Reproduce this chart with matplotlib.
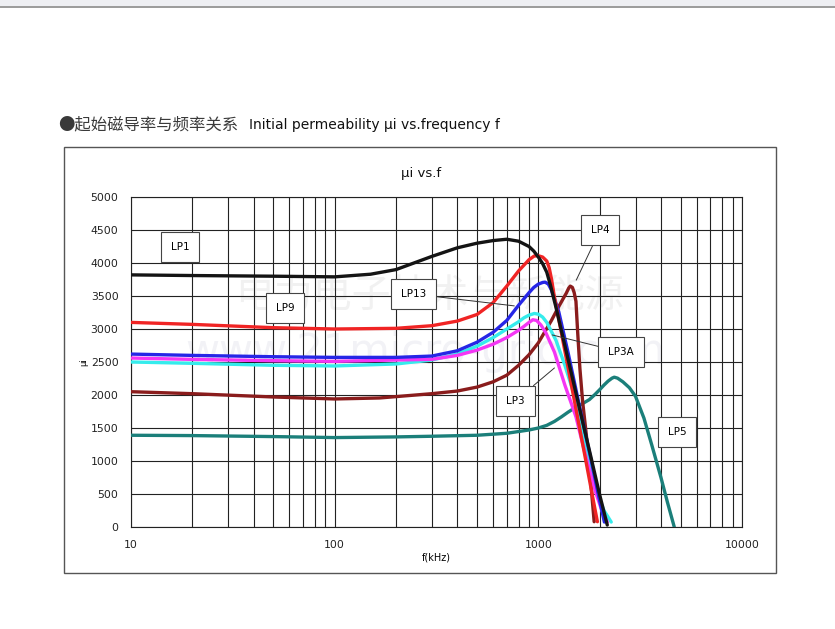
import numpy as np
import matplotlib
matplotlib.use('Agg')
from matplotlib import pyplot as plt
from matplotlib.patches import Rectangle

plt.rcParams['font.family'] = ['DejaVu Sans', 'Noto Sans CJK SC']

# frequency (kHz) / initial permeability readings
lp1_f = [10, 20, 50, 100, 150, 200, 250, 300, 400, 500, 600, 700, 800, 900, 950, 1000, 1050, 1100, 1150, 1220, 1400, 1600, 1800, 2000, 2180]
lp1_u = [3820, 3810, 3800, 3790, 3830, 3900, 4010, 4100, 4230, 4300, 4340, 4360, 4330, 4250, 4180, 4090, 3990, 3860, 3650, 3330, 2540, 1770, 1100, 490, 30]

lp9_f = [10, 20, 50, 100, 200, 300, 400, 500, 600, 700, 800, 900, 955, 1000, 1050, 1100, 1130, 1160, 1200, 1300, 1500, 1700, 1900, 1950]
lp9_u = [3100, 3070, 3020, 3000, 3010, 3050, 3120, 3220, 3400, 3650, 3880, 4050, 4106, 4110, 4090, 4030, 3930, 3760, 3480, 2930, 1930, 1050, 260, 80]

lp13_f = [10, 20, 50, 100, 200, 300, 400, 500, 600, 700, 800, 900, 950, 1000, 1050, 1080, 1120, 1160, 1200, 1260, 1400, 1600, 1800, 2000, 2110]
lp13_u = [2620, 2600, 2580, 2570, 2570, 2590, 2670, 2800, 2950, 3130, 3360, 3550, 3630, 3680, 3705, 3710, 3680, 3590, 3460, 3260, 2640, 1800, 1070, 400, 75]

lp3a_f = [10, 20, 50, 100, 200, 300, 400, 500, 600, 700, 800, 850, 900, 955, 1000, 1050, 1100, 1220, 1350, 1530, 1720, 1900, 2100, 2280]
lp3a_u = [2500, 2480, 2450, 2440, 2470, 2530, 2620, 2740, 2870, 3000, 3110, 3170, 3210, 3235, 3225, 3180, 3100, 2830, 2450, 1920, 1170, 600, 250, 75]

lp3_f = [10, 20, 50, 100, 200, 300, 400, 500, 600, 700, 800, 850, 900, 940, 980, 1030, 1090, 1200, 1350, 1530, 1700, 1900, 2050, 2180]
lp3_u = [2560, 2540, 2520, 2510, 2530, 2540, 2600, 2680, 2770, 2870, 2980, 3040, 3100, 3140, 3130, 3060, 2940, 2650, 2150, 1670, 1100, 550, 250, 75]

lp4_f = [10, 20, 50, 100, 166, 300, 400, 500, 600, 700, 800, 900, 1000, 1160, 1270, 1370, 1410, 1435, 1470, 1500, 1530, 1560, 1600, 1650, 1720, 1800, 1880]
lp4_u = [2050, 2020, 1970, 1940, 1955, 2020, 2060, 2120, 2200, 2300, 2450, 2610, 2790, 3130, 3360, 3540, 3620, 3650, 3630, 3550, 3420, 2950, 2400, 1900, 1400, 750, 80]

lp5_f = [10, 20, 50, 100, 200, 300, 500, 700, 900, 1000, 1100, 1200, 1300, 1400, 1500, 1650, 1780, 1900, 2000, 2100, 2200, 2300, 2360, 2450, 2600, 2800, 3000, 3300, 3600, 4000, 4300, 4650]
lp5_u = [1390, 1385, 1370, 1355, 1365, 1375, 1390, 1420, 1470, 1500, 1540, 1600, 1670, 1740, 1800, 1870, 1930, 2010, 2080, 2150, 2210, 2255, 2270, 2255, 2200, 2110, 1980, 1650, 1250, 750, 380, 0]

series = [
    ('LP5', lp5_f, lp5_u, '#1b7f7a'),
    ('LP4', lp4_f, lp4_u, '#8a1c1c'),
    ('LP3A', lp3a_f, lp3a_u, '#35ecec'),
    ('LP3', lp3_f, lp3_u, '#f436f4'),
    ('LP13', lp13_f, lp13_u, '#2626e6'),
    ('LP9', lp9_f, lp9_u, '#f02424'),
    ('LP1', lp1_f, lp1_u, '#141414'),
]

# label box position (f, u) and optional leader target (f, u)
labels = [
    ('LP1', (17.4, 4240), None),
    ('LP9', (57, 3320), None),
    ('LP13', (245, 3530), (762, 3350)),
    ('LP4', (2010, 4500), (1535, 3740)),
    ('LP3A', (2550, 2650), (1170, 2910)),
    ('LP3', (771, 1910), (1200, 2410)),
    ('LP5', (4790, 1440), None),
]

fig = plt.figure(figsize=(8.35, 6.29), dpi=100)

# grey strip at the top of the page
fig.patches.append(Rectangle((0, 1 - 6 / 629), 1, 6 / 629, transform=fig.transFigure,
                             facecolor='#eeeff3', edgecolor='none'))
fig.add_artist(plt.Line2D([0, 1], [1 - 6.5 / 629, 1 - 6.5 / 629], transform=fig.transFigure,
                          color='#8a8a8a', lw=1.2))

# outer chart frame
fig.patches.append(Rectangle((64 / 835, 1 - 573 / 629), 712 / 835, 426 / 629,
                             transform=fig.transFigure, facecolor='none',
                             edgecolor='#555555', lw=1.0))

fig.text(58 / 835, 1 - 125 / 629, '●起始磁导率与频率关系', fontsize=11.8, color='#3a3a3a',
         family=['Noto Sans CJK SC', 'DejaVu Sans'], va='center', ha='left')
fig.text(249 / 835, 1 - 125 / 629, 'Initial permeability μi vs.frequency f', fontsize=10,
         color='#111111', va='center', ha='left')
fig.text(421 / 835, 1 - 174 / 629, 'μi vs.f', fontsize=9.5, color='#111111',
         va='center', ha='center')

ax = fig.add_axes([131 / 835, 1 - 527 / 629, 611 / 835, 330 / 629])
ax.patch.set_alpha(0)
ax.set_xscale('log')
ax.set_xlim(10, 10000)
ax.set_ylim(0, 5000)
ax.set_yticks(np.arange(0, 5001, 500))
ax.set_xticks([10, 100, 1000, 10000])
ax.set_xticklabels(['10', '100', '1000', '10000'])
ax.xaxis.set_minor_locator(matplotlib.ticker.LogLocator(base=10, subs=np.arange(2, 10)))
ax.xaxis.set_minor_formatter(matplotlib.ticker.NullFormatter())
ax.grid(True, which='both', axis='x', color='#222222', lw=0.8)
ax.grid(True, which='major', axis='y', color='#222222', lw=0.8)
ax.tick_params(which='both', length=0, labelsize=7.8, colors='#222222', pad=9)
for s in ax.spines.values():
    s.set_color('#222222')
    s.set_linewidth(0.8)
ax.set_xlabel('f(kHz)', fontsize=7, labelpad=2)
ax.set_ylabel('μi', fontsize=6, labelpad=2)

# faint watermark
ax.text(430 / 835, 1 - 297 / 629, '电力电子技术与新能源', transform=fig.transFigure,
        fontsize=28, color='#f1f1f1', ha='center', va='center',
        family=['Noto Sans CJK SC', 'DejaVu Sans'], zorder=1)
ax.text(425 / 835, 1 - 352 / 629, 'www.21micro-grid.com', transform=fig.transFigure,
        fontsize=30, color='#f2f2f6', ha='center', va='center', zorder=1)

for name, f, u, c in series:
    ax.plot(f, u, color=c, lw=2.4, solid_capstyle='round', solid_joinstyle='round', zorder=3)

box = dict(boxstyle='square,pad=0.95', facecolor='white', edgecolor='#444444', lw=0.8)
for name, pos, tgt in labels:
    if tgt is None:
        ax.text(pos[0], pos[1], name, fontsize=7.5, ha='center', va='center', bbox=box, zorder=5)
    else:
        ax.annotate(name, xy=tgt, xytext=pos, fontsize=7.5, ha='center', va='center', bbox=box,
                    arrowprops=dict(arrowstyle='-', color='#333333', lw=0.7,
                                    shrinkA=0, shrinkB=0), zorder=5)

fig.savefig('out.png', dpi=100)
